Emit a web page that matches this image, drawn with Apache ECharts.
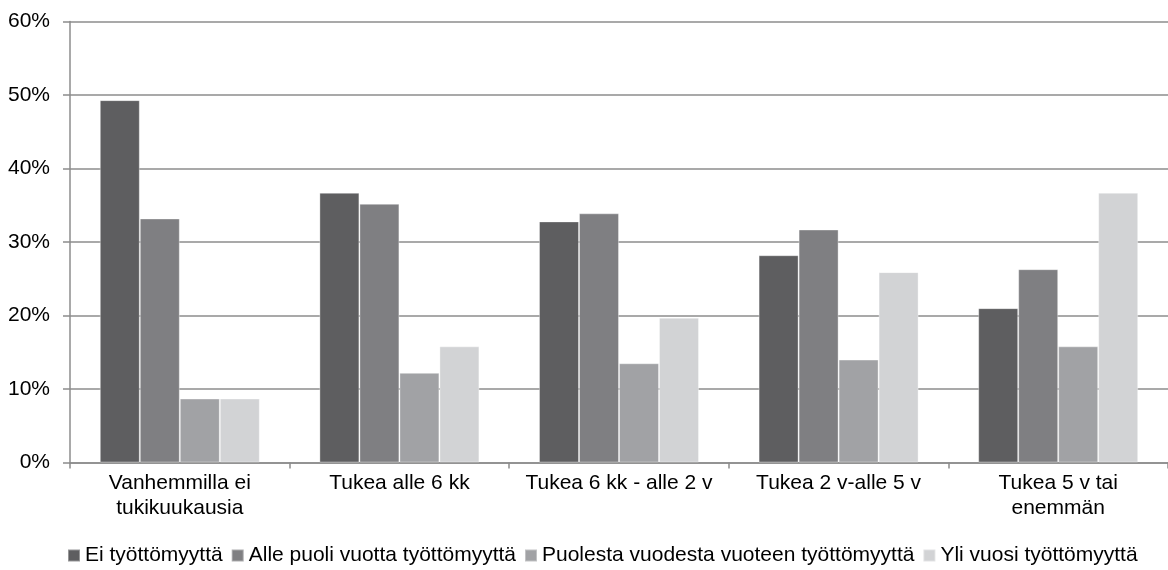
<!DOCTYPE html>
<html>
<head>
<meta charset="utf-8">
<script src="https://cdn.jsdelivr.net/npm/echarts@6/dist/echarts.min.js"></script>
<style>
  html, body { margin: 0; padding: 0; background: #fff; }
  #chart { width: 1168px; height: 570px; }
</style>
</head>
<body>
<div id="chart"></div>
<script>
// categories and series (percent)
var categories = ['Vanhemmilla ei\ntukikuukausia', 'Tukea alle 6 kk', 'Tukea 6 kk - alle 2 v', 'Tukea 2 v-alle 5 v', 'Tukea 5 v tai\nenemmän']
var seriesNames = ['Ei työttömyyttä', 'Alle puoli vuotta työttömyyttä', 'Puolesta vuodesta vuoteen työttömyyttä', 'Yli vuosi työttömyyttä']
var eiTyottomyytta = [49.3, 36.7, 32.8, 28.2, 21.0]
var allePuoliVuotta = [33.2, 35.2, 33.9, 31.7, 26.3]
var puolestaVuoteen = [8.7, 12.2, 13.5, 14.0, 15.8]
var yliVuosi = [8.7, 15.8, 19.7, 25.9, 36.7]
var colors = ['#5e5e60', '#7f7f82', '#a1a2a5', '#d2d3d5']

var font = '"Liberation Sans", Arial, sans-serif'
var axisGray = '#8c8c8c'

var chart = echarts.init(document.getElementById('chart'))

function bar(name, data, color) {
  return {
    name: name,
    type: 'bar',
    data: data,
    barWidth: 40,
    barGap: '0%',
    itemStyle: {
      color: color,
      borderColor: 'rgba(255,255,255,0.35)',
      borderWidth: 1
    },
    animation: false
  }
}

chart.setOption({
  color: colors,
  textStyle: { fontFamily: font },
  grid: {
    left: 70,
    top: 21.5,
    width: 1100,
    height: 441
  },
  legend: {
    left: 62,
    top: 540,
    itemWidth: 12,
    itemHeight: 12,
    itemGap: 8,
    icon: 'rect',
    textStyle: { fontSize: 21, color: '#000', fontFamily: font },
    data: seriesNames
  },
  xAxis: {
    type: 'category',
    data: categories,
    axisLine: { lineStyle: { color: axisGray, width: 1.5 } },
    axisTick: { show: true, length: 6, lineStyle: { color: axisGray, width: 1.5 } },
    axisLabel: {
      interval: 0,
      margin: 8,
      fontSize: 21,
      lineHeight: 25,
      color: '#000',
      fontFamily: font
    }
  },
  yAxis: {
    type: 'value',
    min: 0,
    max: 60,
    interval: 10,
    axisLine: { show: true, lineStyle: { color: axisGray, width: 1.5 } },
    axisTick: { show: true, length: 7, lineStyle: { color: axisGray, width: 1.5 } },
    splitLine: { lineStyle: { color: axisGray, width: 1.5 } },
    axisLabel: {
      formatter: '{value}%',
      margin: 20,
      fontSize: 21,
      color: '#000',
      fontFamily: font
    }
  },
  series: [
    bar(seriesNames[0], eiTyottomyytta, colors[0]),
    bar(seriesNames[1], allePuoliVuotta, colors[1]),
    bar(seriesNames[2], puolestaVuoteen, colors[2]),
    bar(seriesNames[3], yliVuosi, colors[3])
  ]
})
</script>
</body>
</html>
